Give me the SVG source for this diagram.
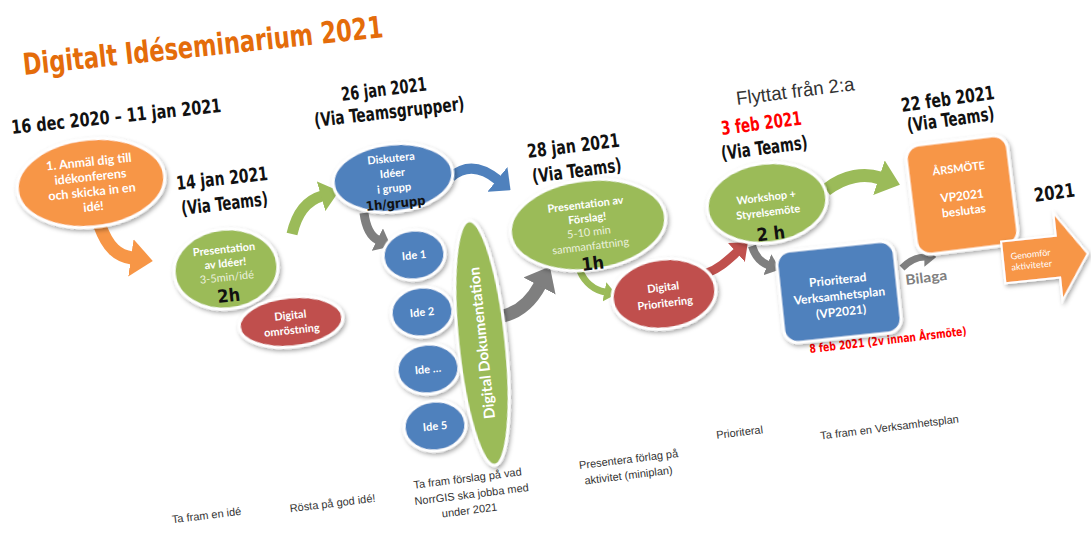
<svg xmlns="http://www.w3.org/2000/svg" width="1091" height="535" viewBox="0 0 1091 535">
<defs>
<filter id="sh" x="-20%" y="-20%" width="150%" height="160%"><feDropShadow dx="1.5" dy="2.5" stdDeviation="2" flood-color="#000" flood-opacity="0.35"/></filter>
<marker id="mO" viewBox="0 0 10 10" refX="0.5" refY="5" markerWidth="1.7" markerHeight="2.9" preserveAspectRatio="none" orient="auto"><path d="M0,0 L10,5 L0,10 z" fill="#F79646"/></marker>
<marker id="mG" viewBox="0 0 10 10" refX="0.5" refY="5" markerWidth="1.7" markerHeight="2.8" preserveAspectRatio="none" orient="auto"><path d="M0,0 L10,5 L0,10 z" fill="#9BBB59"/></marker>
<marker id="mB" viewBox="0 0 10 10" refX="0.5" refY="5" markerWidth="1.7" markerHeight="3.2" preserveAspectRatio="none" orient="auto"><path d="M0,0 L10,5 L0,10 z" fill="#4F81BD"/></marker>
<marker id="mR" viewBox="0 0 10 10" refX="0.5" refY="5" markerWidth="1.7" markerHeight="2.8" preserveAspectRatio="none" orient="auto"><path d="M0,0 L10,5 L0,10 z" fill="#C0504D"/></marker>
<marker id="mK" viewBox="0 0 10 10" refX="0.5" refY="5" markerWidth="1.7" markerHeight="2.8" preserveAspectRatio="none" orient="auto"><path d="M0,0 L10,5 L0,10 z" fill="#7F7F7F"/></marker>
</defs>
<style>
.hd{font-family:"DejaVu Sans Condensed","DejaVu Sans",sans-serif;font-weight:bold;fill:#111;font-size:19px}
.ttl{font-family:"DejaVu Sans Condensed","DejaVu Sans",sans-serif;font-weight:bold;fill:#E46C0A;font-size:30px}
.nt{font-family:Lato,"Open Sans",sans-serif;font-weight:bold;fill:#fff;text-anchor:middle;font-size:11px}
.lt{font-family:Lato,"Open Sans",sans-serif;fill:#EBF1DE;text-anchor:middle;font-size:11px}
.bk{font-family:"DejaVu Sans Condensed","DejaVu Sans",sans-serif;font-weight:bold;fill:#111;text-anchor:middle;font-size:18px}
.bt{font-family:"Liberation Sans",sans-serif;font-size:11px;fill:#333;text-anchor:middle}
.nd{stroke:#fff;stroke-width:3;filter:url(#sh)}
.or{fill:#F79646}.gr{fill:#9BBB59}.bl{fill:#4F81BD}.rd{fill:#C0504D}
.cn path{fill:none;stroke-linecap:butt}
</style>
<rect width="1091" height="535" fill="#fff"/>

<g id="headings">
<text class="ttl" x="24" y="75" transform="rotate(-6 24 75)" textLength="362" lengthAdjust="spacingAndGlyphs">Digitalt Idéseminarium 2021</text>
<text class="hd" x="12" y="134" transform="rotate(-6 12 134)" textLength="211" lengthAdjust="spacingAndGlyphs">16 dec 2020 – 11 jan 2021</text>
<text class="hd" x="177" y="190" transform="rotate(-6.3 177 190)" textLength="92" lengthAdjust="spacingAndGlyphs">14 jan 2021</text>
<text class="hd" x="182" y="215" transform="rotate(-6.5 182 215)" textLength="87" lengthAdjust="spacingAndGlyphs">(Via Teams)</text>
<text class="hd" x="342" y="101" transform="rotate(-7 342 101)" textLength="86" lengthAdjust="spacingAndGlyphs">26 jan 2021</text>
<text class="hd" x="315" y="127" transform="rotate(-6.5 315 127)" textLength="151" lengthAdjust="spacingAndGlyphs">(Via Teamsgrupper)</text>
<text class="hd" x="528" y="158" transform="rotate(-7 528 158)" textLength="93" lengthAdjust="spacingAndGlyphs">28 jan 2021</text>
<text class="hd" x="533" y="183" transform="rotate(-7.5 533 183)" textLength="90" lengthAdjust="spacingAndGlyphs">(Via Teams)</text>
<text x="737" y="105" transform="rotate(-7.2 737 105)" textLength="119" lengthAdjust="spacingAndGlyphs" style="font-family:'Liberation Sans',sans-serif;font-size:19px;fill:#333">Flyttat från 2:a</text>
<text class="hd" x="722" y="135" transform="rotate(-7.5 722 135)" textLength="81" lengthAdjust="spacingAndGlyphs" style="fill:#FF0000">3 feb 2021</text>
<text class="hd" x="722" y="160" transform="rotate(-7.5 722 160)" textLength="87" lengthAdjust="spacingAndGlyphs">(Via Teams)</text>
<text class="hd" x="902" y="112" transform="rotate(-8 902 112)" textLength="94" lengthAdjust="spacingAndGlyphs">22 feb 2021</text>
<text class="hd" x="908" y="132" transform="rotate(-8 908 132)" textLength="88" lengthAdjust="spacingAndGlyphs">(Via Teams)</text>
<text class="hd" x="1035" y="202" transform="rotate(-8 1035 202)" textLength="41" lengthAdjust="spacingAndGlyphs">2021</text>
<text x="810" y="353" transform="rotate(-6.5 810 353)" textLength="158" lengthAdjust="spacingAndGlyphs" style="font-family:'DejaVu Sans Condensed','DejaVu Sans',sans-serif;font-weight:bold;font-size:12px;fill:#FF0000">8 feb 2021 (2v innan Årsmöte)</text>
<text x="906" y="285" transform="rotate(-7 906 285)" textLength="42" lengthAdjust="spacingAndGlyphs" style="font-family:Lato,sans-serif;font-weight:bold;font-size:14px;fill:#7F7F7F">Bilaga</text>
</g>

<g class="cn" id="connectors">
<path d="M100,226 C108,248 118,256 132,258" stroke="#F79646" stroke-width="13" marker-end="url(#mO)"/>
<path d="M292,234 C297,212 308,200 322,196" stroke="#9BBB59" stroke-width="11" marker-end="url(#mG)"/>
<path d="M451,177 C466,164 482,167 498,180" stroke="#4F81BD" stroke-width="10" marker-end="url(#mB)"/>
<path d="M364,213 C366,228 370,236 378,240" stroke="#7F7F7F" stroke-width="9" marker-end="url(#mK)"/>
<path d="M503,316 C520,312 532,300 540,285" stroke="#7F7F7F" stroke-width="13" marker-end="url(#mK)"/>
<path d="M580,271 C585,283 595,290 605,292" stroke="#9BBB59" stroke-width="7" marker-end="url(#mG)"/>
<path d="M707,273 C720,268 728,260 737,252" stroke="#C0504D" stroke-width="9" marker-end="url(#mR)"/>
<path d="M826,190 C845,175 865,173 880,178" stroke="#9BBB59" stroke-width="13" marker-end="url(#mG)"/>
<path d="M752,246 C755,256 760,262 768,265" stroke="#7F7F7F" stroke-width="8" marker-end="url(#mK)"/>
<path d="M902,268 C910,260 918,257 925,257" stroke="#7F7F7F" stroke-width="7" marker-end="url(#mK)"/>
</g>

<g id="n-anmal" transform="rotate(-6 91 183)">
<ellipse class="nd or" cx="91" cy="183" rx="74" ry="44"/>
<text class="nt" x="91" y="166" style="font-size:12.5px">1. Anmäl dig till</text>
<text class="nt" x="91" y="181" style="font-size:12.5px">idékonferens</text>
<text class="nt" x="91" y="196" style="font-size:12.5px">och skicka in en</text>
<text class="nt" x="91" y="211" style="font-size:12.5px">idé!</text>
</g>

<g id="n-pres1" transform="rotate(-6 226 269)">
<ellipse class="nd gr" cx="226" cy="269" rx="52" ry="40"/>
<text class="nt" x="226" y="253">Presentation</text>
<text class="nt" x="226" y="267">av Idéer!</text>
<text class="lt" x="226" y="281">3-5min/idé</text>
<text class="bk" x="226" y="302">2h</text>
</g>

<g id="n-omrost" transform="rotate(-6 291 322)">
<ellipse class="nd rd" cx="291" cy="322" rx="52" ry="25"/>
<text class="nt" x="291" y="319">Digital</text>
<text class="nt" x="291" y="334">omröstning</text>
</g>

<g id="n-disk" transform="rotate(-6 393 178)">
<ellipse class="nd bl" cx="393" cy="178" rx="60" ry="34"/>
<text class="nt" x="393" y="162">Diskutera</text>
<text class="nt" x="393" y="177">Idéer</text>
<text class="nt" x="393" y="192">i grupp</text>
<text class="bk" x="393" y="208" style="font-size:13px">1h/grupp</text>
</g>

<g id="n-ide1" transform="rotate(-6 414 255)">
<ellipse class="nd bl" cx="414" cy="255" rx="31" ry="25"/>
<text class="nt" x="414" y="259">Ide 1</text>
</g>
<g id="n-ide2" transform="rotate(-6 422 312)">
<ellipse class="nd bl" cx="422" cy="312" rx="31" ry="25"/>
<text class="nt" x="422" y="316">Ide 2</text>
</g>
<g id="n-ide3" transform="rotate(-6 428 369)">
<ellipse class="nd bl" cx="428" cy="369" rx="31" ry="25"/>
<text class="nt" x="428" y="373">Ide …</text>
</g>
<g id="n-ide5" transform="rotate(-6 435 426)">
<ellipse class="nd bl" cx="435" cy="426" rx="31" ry="25"/>
<text class="nt" x="435" y="430">Ide 5</text>
</g>

<g id="n-dok" transform="rotate(-6 482 343)">
<ellipse class="nd gr" cx="482" cy="343" rx="24" ry="123"/>
<text class="nt" x="482" y="343" transform="rotate(-90 482 343)" dy="5" style="font-size:15px">Digital Dokumentation</text>
</g>

<g id="n-pres2" transform="rotate(-7 588 225)">
<ellipse class="nd gr" cx="588" cy="225" rx="78" ry="45"/>
<text class="nt" x="588" y="208">Presentation av</text>
<text class="nt" x="588" y="222">Förslag!</text>
<text class="lt" x="588" y="236">5-10 min</text>
<text class="lt" x="588" y="250">sammanfattning</text>
<text class="bk" x="588" y="270">1h</text>
</g>

<g id="n-prio" transform="rotate(-7 664 294)">
<ellipse class="nd rd" cx="664" cy="294" rx="52" ry="35"/>
<text class="nt" x="664" y="291">Digital</text>
<text class="nt" x="664" y="307">Prioritering</text>
</g>

<g id="n-workshop" transform="rotate(-7 767 203)">
<ellipse class="nd gr" cx="767" cy="203" rx="60" ry="40"/>
<text class="nt" x="767" y="201">Workshop +</text>
<text class="nt" x="767" y="216">Styrelsemöte</text>
<text class="bk" x="767" y="240">2 h</text>
</g>

<g id="n-vp" transform="rotate(-6 839 292)">
<rect class="nd bl" x="780" y="246" width="118" height="92" rx="14"/>
<text class="nt" x="839" y="284" style="font-size:12px">Prioriterad</text>
<text class="nt" x="839" y="300" style="font-size:12px">Verksamhetsplan</text>
<text class="nt" x="839" y="316" style="font-size:12px">(VP2021)</text>
</g>

<g id="n-arsmote" transform="rotate(-7 962 195)">
<rect class="nd or" x="911" y="140" width="102" height="110" rx="14"/>
<text class="nt" x="962" y="172" style="font-size:11px">ÅRSMÖTE</text>
<text class="nt" x="962" y="200" style="font-size:12px">VP2021</text>
<text class="nt" x="962" y="215" style="font-size:12px">beslutas</text>
</g>

<g id="n-genomfor" transform="rotate(-6 1045 258)">
<polygon class="or" style="stroke:#fff;stroke-width:2;filter:url(#sh)" points="1003,237 1058,237 1058,214 1088,258 1058,302 1058,279 1003,279"/>
<text class="lt" x="1031" y="256" style="font-size:9px;fill:#fff">Genomför</text>
<text class="lt" x="1031" y="267" style="font-size:9px;fill:#fff">aktiviteter</text>
</g>

<g id="bottom-labels">
<text class="bt" x="207" y="519" transform="rotate(-7 207 519)">Ta fram en idé</text>
<text class="bt" x="333" y="507" transform="rotate(-7 333 507)">Rösta på god idé!</text>
<text class="bt" x="468" y="482" transform="rotate(-7 468 482)">Ta fram förslag på vad</text>
<text class="bt" x="472" y="498" transform="rotate(-7 472 498)">NorrGIS ska jobba med</text>
<text class="bt" x="470" y="514" transform="rotate(-7 470 514)">under 2021</text>
<text class="bt" x="629" y="463" transform="rotate(-7 629 463)">Presentera förlag på</text>
<text class="bt" x="629" y="479" transform="rotate(-7 629 479)">aktivitet (miniplan)</text>
<text class="bt" x="740" y="436" transform="rotate(-7 740 436)">Prioriteral</text>
<text class="bt" x="890" y="431" transform="rotate(-7 890 431)">Ta fram en Verksamhetsplan</text>
</g>
</svg>
